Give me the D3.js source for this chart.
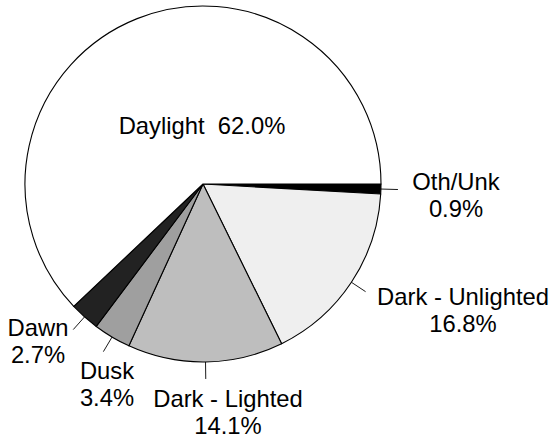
<!DOCTYPE html>
<html><head><meta charset="utf-8">
<script src="https://cdn.jsdelivr.net/npm/d3@7"></script>
<style>body{margin:0;background:#fff}svg{display:block}text{font-family:"Liberation Sans",Arial,Helvetica,sans-serif;font-size:23.8px;fill:#000}</style>
</head><body>
<script>
const categories = ["Oth/Unk","Dark - Unlighted","Dark - Lighted","Dusk","Dawn","Daylight"];
const values = [0.9,16.8,14.1,3.4,2.7,62.0];
const labels = ["0.9%","16.8%","14.1%","3.4%","2.7%","62.0%"];
const colors = ["#000000","#efefef","#bebebe","#9f9f9f","#222222","#ffffff"];

const W=551,H=440,cx=203,cy=184,R=178;
// label layout: [x, baseline of first line, twoLine]
const labelPos = [[456,190,true],[463,305,true],[228,407,true],[107,379,true],[38,336,true],[202,134,false]];

const svg=d3.select("body").append("svg").attr("width",W).attr("height",H);
const g=svg.append("g").attr("transform",`translate(${cx},${cy})`);
const pie=d3.pie().sort(null).value(d=>d).startAngle(Math.PI/2).endAngle(Math.PI/2+2*Math.PI);
const arcs=pie(values);
const arc=d3.arc().innerRadius(0).outerRadius(R);
g.selectAll("path").data(arcs).join("path").attr("d",arc)
 .attr("fill",(d,i)=>colors[i]).attr("stroke","#000").attr("stroke-width",1.1).attr("stroke-linejoin","round");

arcs.forEach((d,i)=>{
  if(i===5) return;
  const a=(d.startAngle+d.endAngle)/2;
  const r1=R, r2=R+17;
  g.append("line").attr("x1",r1*Math.sin(a)).attr("y1",-r1*Math.cos(a))
   .attr("x2",r2*Math.sin(a)).attr("y2",-r2*Math.cos(a)).attr("stroke","#000").attr("stroke-width",0.9);
});

categories.forEach((c,i)=>{
  const [x,y,two]=labelPos[i];
  if(two){
    svg.append("text").attr("x",x).attr("y",y).attr("text-anchor","middle").text(c);
    svg.append("text").attr("x",x).attr("y",y+27).attr("text-anchor","middle").text(labels[i]);
  } else {
    svg.append("text").attr("x",x).attr("y",y).attr("text-anchor","middle").attr("xml:space","preserve").style("white-space","pre").text(c+"  "+labels[i]);
  }
});
</script>
</body></html>
